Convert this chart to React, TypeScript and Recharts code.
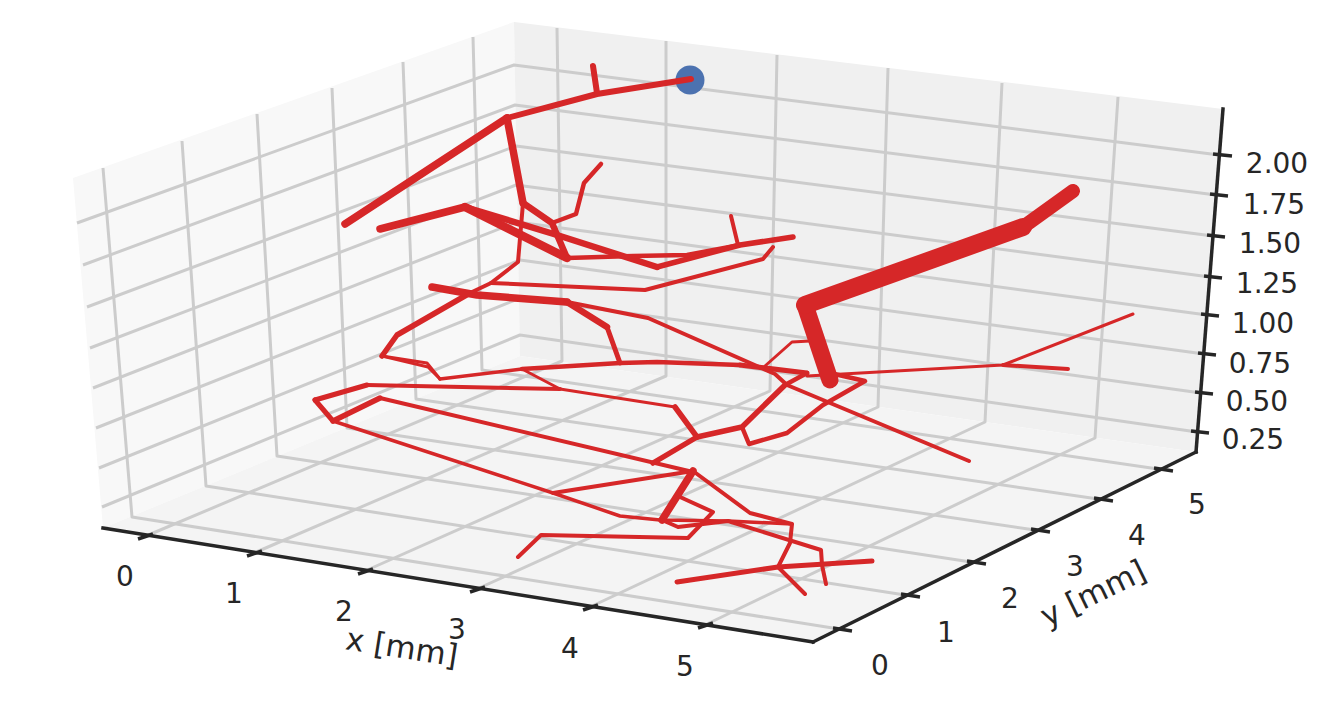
import { ScatterChart, Scatter, XAxis, YAxis } from "recharts";

type Pt = [number, number];

const leftWall: Pt[] = [[73, 178], [514, 22], [520, 356], [103, 528]];
const backWall: Pt[] = [[514, 22], [1223, 109], [1196, 452], [520, 356]];
const floor: Pt[] = [[103, 528], [520, 356], [1196, 452], [813, 642]];

// z gridlines: left edge -> back corner -> right edge
const zGrid: Pt[][] = [
  [[102, 507], [520, 335], [1197, 432]],
  [[99, 468], [520, 298], [1201, 393]],
  [[96, 428], [520, 260], [1204, 354]],
  [[93, 388], [517, 222], [1207, 315]],
  [[90, 348], [516, 185], [1210, 277]],
  [[87, 307], [516, 146], [1213, 236]],
  [[83, 265], [515, 105], [1216, 195]],
  [[77, 223], [514, 65], [1219, 155]],
];

// y gridlines: top of left wall -> foot -> front axis
const yGrid: Pt[][] = [
  [[103, 168], [132, 517], [839, 629]],
  [[182, 141], [206, 486], [905, 595]],
  [[257, 114], [277, 456], [971, 562]],
  [[332, 88], [347, 428], [1035, 530]],
  [[403, 62], [416, 399], [1098, 499]],
  [[473, 37], [482, 370], [1158, 469]],
];

// x gridlines: top of back wall -> foot -> front axis
const xGrid: Pt[][] = [
  [[557, 28], [562, 361], [146, 536]],
  [[666, 41], [666, 376], [254, 553]],
  [[777, 55], [770, 391], [365, 571]],
  [[888, 68], [878, 407], [477, 589]],
  [[1002, 83], [985, 422], [590, 607]],
  [[1118, 97], [1095, 438], [705, 625]],
];

const axisX: Pt[] = [[103, 528], [813, 642]];
const axisY: Pt[] = [[813, 642], [1196, 452]];
const axisZ: Pt[] = [[1196, 452], [1223, 109]];

const xTicks: Pt[][] = [
  [[138, 539], [153, 534]], [[247, 556], [262, 551]], [[358, 574], [373, 569]],
  [[470, 592], [485, 587]], [[583, 610], [598, 605]], [[698, 628], [713, 623]],
];
const yTicks: Pt[][] = [
  [[833, 628], [852, 631]], [[901, 594], [920, 597]], [[967, 561], [986, 564]],
  [[1031, 529], [1050, 532]], [[1094, 498], [1113, 501]], [[1154, 468], [1173, 471]],
];
const zTicks: Pt[][] = [
  [[1191, 431], [1209, 433]], [[1195, 392], [1213, 394]], [[1198, 353], [1216, 355]],
  [[1201, 314], [1219, 316]], [[1204, 276], [1222, 278]], [[1207, 235], [1225, 237]],
  [[1210, 194], [1228, 196]], [[1213, 154], [1232, 156]],
];

const xTickLabels = ["0", "1", "2", "3", "4", "5"];
const xLabelSpots: Pt[] = [[125, 576], [234, 593], [344, 611], [457, 629], [570, 648], [685, 666]];
const yTickLabels = ["0", "1", "2", "3", "4", "5"];
const yLabelSpots: Pt[] = [[880, 665], [946, 632], [1010, 598], [1075, 566], [1137, 535], [1197, 504]];
const zTickLabels = ["0.25", "0.50", "0.75", "1.00", "1.25", "1.50", "1.75", "2.00"];
const zLabelSpots: Pt[] = [
  [1253, 439], [1257, 401], [1260, 363], [1263, 323], [1267, 283], [1270, 243], [1274, 204], [1277, 163],
];

const somaPoint: Pt[] = [[690, 80]];

// branch polylines with their line width
const branches: { pts: Pt[]; w: number }[] = [
  // top branch up to the soma
  { pts: [[345, 224], [507, 118]], w: 7.5 },
  { pts: [[507, 118], [597, 94], [691, 79]], w: 6 },
  { pts: [[593, 66], [597, 93]], w: 6 },
  { pts: [[507, 118], [523, 203]], w: 7.5 },
  { pts: [[523, 203], [552, 223], [567, 258]], w: 6.5 },
  { pts: [[552, 223], [576, 214], [584, 183], [601, 164]], w: 4.5 },
  // second level
  { pts: [[380, 229], [465, 207]], w: 7.5 },
  { pts: [[465, 207], [567, 258]], w: 8.5 },
  { pts: [[465, 207], [557, 235], [657, 267]], w: 6.5 },
  { pts: [[657, 267], [740, 245], [793, 237]], w: 5.5 },
  { pts: [[567, 258], [633, 256], [687, 255], [740, 245]], w: 4.5 },
  { pts: [[731, 216], [738, 245]], w: 4 },
  { pts: [[523, 203], [518, 262], [491, 283], [470, 293]], w: 4 },
  { pts: [[470, 293], [397, 335], [382, 356]], w: 5.5 },
  { pts: [[382, 356], [427, 363], [440, 379]], w: 3 },
  { pts: [[382, 356], [428, 367], [440, 379]], w: 3 },
  { pts: [[440, 379], [522, 369]], w: 3.5 },
  { pts: [[522, 369], [620, 363], [657, 362], [740, 365]], w: 4.5 },
  { pts: [[740, 365], [807, 373]], w: 5 },
  { pts: [[491, 283], [645, 290], [763, 259], [773, 247]], w: 4 },
  // third level
  { pts: [[432, 287], [477, 295], [567, 302]], w: 7.5 },
  { pts: [[567, 302], [607, 327]], w: 6.5 },
  { pts: [[607, 327], [620, 363]], w: 5 },
  { pts: [[567, 302], [648, 318], [775, 374], [787, 385], [969, 461]], w: 4 },
  // lower loop
  { pts: [[522, 369], [560, 389], [675, 407]], w: 3 },
  { pts: [[675, 407], [697, 437]], w: 5.5 },
  { pts: [[367, 385], [560, 389]], w: 4 },
  { pts: [[367, 385], [315, 400]], w: 5 },
  { pts: [[315, 400], [333, 421]], w: 5 },
  { pts: [[333, 421], [380, 398]], w: 5.5 },
  { pts: [[380, 398], [693, 472]], w: 4 },
  { pts: [[333, 421], [553, 493], [620, 516], [660, 520], [728, 521], [792, 524]], w: 3.5 },
  { pts: [[553, 493], [693, 471]], w: 4 },
  { pts: [[697, 437], [653, 463]], w: 5.5 },
  { pts: [[697, 437], [742, 427], [785, 385]], w: 5.5 },
  { pts: [[785, 385], [807, 373]], w: 4.5 },
  { pts: [[742, 427], [749, 444], [787, 433], [823, 405], [865, 381], [830, 373]], w: 4.5 },
  // right side fan
  { pts: [[807, 376], [1003, 365], [1133, 314]], w: 3 },
  { pts: [[1003, 365], [1068, 369]], w: 4 },
  { pts: [[765, 366], [792, 342], [810, 341]], w: 3 },
  // bottom cluster
  { pts: [[693, 471], [662, 520]], w: 7.5 },
  { pts: [[693, 471], [750, 513], [792, 524], [790, 543], [778, 567], [805, 594]], w: 4 },
  { pts: [[677, 582], [778, 567], [872, 561]], w: 5 },
  { pts: [[680, 497], [713, 512], [688, 538], [541, 535], [518, 557]], w: 4 },
  { pts: [[662, 520], [678, 527], [728, 521], [821, 550], [822, 565], [826, 584]], w: 4 },
  // thick trunk, drawn last
  { pts: [[805, 305], [830, 380]], w: 17 },
  { pts: [[1023, 227], [805, 305]], w: 18 },
  { pts: [[1073, 191], [1023, 227]], w: 14 },
];

const RED = "#d62728";
const INK = "#262626";
const GRID = "#cccccc";

const toRows = (pts: Pt[]) => pts.map(([x, y]) => ({ x, y }));
const labelRows = (labels: string[], spots: Pt[]) =>
  labels.map((text, i) => ({ x: spots[i][0], y: spots[i][1], text }));

const noDot = () => null;

const polyline = (key: string, pts: Pt[], stroke: string, width: number, cap = "round") => (
  <Scatter
    key={key}
    data={toRows(pts)}
    dataKey="y"
    isAnimationActive={false}
    shape={noDot}
    fill={stroke}
    line={{ stroke, strokeWidth: width, strokeLinecap: cap, strokeLinejoin: "round", fill: "none" }}
  />
);

const pane = (key: string, pts: Pt[], fill: string) => (
  <Scatter
    key={key}
    data={toRows(pts)}
    dataKey="y"
    isAnimationActive={false}
    shape={noDot}
    fill={fill}
    line={{ stroke: "none", fill }}
  />
);

const labelShape = (rotate: number, size: number) => (p: any) => (
  <text
    x={p.cx}
    y={p.cy}
    textAnchor="middle"
    dominantBaseline="central"
    fontFamily="DejaVu Sans"
    fontSize={size}
    fill={INK}
    transform={rotate ? `rotate(${rotate} ${p.cx} ${p.cy})` : undefined}
  >
    {p.payload.text}
  </text>
);

const labels = (key: string, rows: { x: number; y: number; text: string }[], rotate = 0, size = 28) => (
  <Scatter key={key} data={rows} dataKey="y" isAnimationActive={false} shape={labelShape(rotate, size)} />
);

export default function App() {
  return (
    <div style={{ position: "absolute", left: 0, top: 0 }}>
      <ScatterChart width={1334} height={702} margin={{ top: 0, right: 0, bottom: 0, left: 0 }}>
        <XAxis type="number" dataKey="x" domain={[0, 1334]} hide />
        <YAxis type="number" dataKey="y" domain={[0, 702]} reversed hide />

        {pane("left", leftWall, "#f8f8f8")}
        {pane("back", backWall, "#f0f0f0")}
        {pane("floor", floor, "#f4f4f4")}

        {zGrid.map((g, i) => polyline(`z${i}`, g, GRID, 3, "butt"))}
        {yGrid.map((g, i) => polyline(`y${i}`, g, GRID, 3, "butt"))}
        {xGrid.map((g, i) => polyline(`x${i}`, g, GRID, 3, "butt"))}

        {polyline("ax", axisX, INK, 3.5, "square")}
        {polyline("ay", axisY, INK, 3.5, "square")}
        {polyline("az", axisZ, INK, 3.5, "square")}
        {xTicks.map((t, i) => polyline(`xt${i}`, t, INK, 3.5, "butt"))}
        {yTicks.map((t, i) => polyline(`yt${i}`, t, INK, 3.5, "butt"))}
        {zTicks.map((t, i) => polyline(`zt${i}`, t, INK, 3.5, "butt"))}

        <Scatter
          data={toRows(somaPoint)}
          dataKey="y"
          isAnimationActive={false}
          shape={(p: any) => <circle cx={p.cx} cy={p.cy} r={14.5} fill="#4c72b0" />}
        />

        {branches.map((b, i) => polyline(`b${i}`, b.pts, RED, b.w))}

        {labels("xl", labelRows(xTickLabels, xLabelSpots))}
        {labels("yl", labelRows(yTickLabels, yLabelSpots))}
        {labels("zl", labelRows(zTickLabels, zLabelSpots))}
        {labels("xn", [{ x: 402, y: 647, text: "x [mm]" }], 9, 31)}
        {labels("yn", [{ x: 1093, y: 593, text: "y [mm]" }], -26, 31)}
      </ScatterChart>
    </div>
  );
}
